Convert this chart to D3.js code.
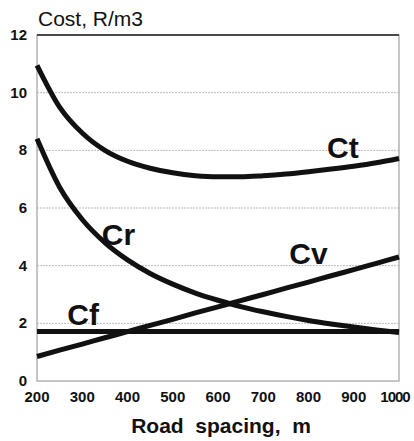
<!DOCTYPE html>
<html>
<head>
<meta charset="utf-8">
<script src="https://cdn.jsdelivr.net/npm/d3@7"></script>
<style>
  body { margin: 0; background: #fff; }
  svg { display: block; font-family: Arial, "Liberation Sans", sans-serif; }
</style>
</head>
<body>
<svg width="414" height="441"></svg>
<script>
// road spacing, m
var spacing = [200, 250, 300, 350, 400, 450, 500, 550, 600, 650, 700, 750, 800, 850, 900, 950, 1000];
// cost components, R/m3
var Cr = [8.4, 6.72, 5.6, 4.8, 4.2, 3.73, 3.36, 3.05, 2.8, 2.58, 2.4, 2.24, 2.1, 1.98, 1.87, 1.77, 1.68];
var Cv = [0.85, 1.07, 1.28, 1.5, 1.71, 1.93, 2.14, 2.36, 2.57, 2.79, 3.0, 3.22, 3.43, 3.65, 3.86, 4.08, 4.3];
var Cf = [1.72, 1.72, 1.72, 1.72, 1.72, 1.72, 1.72, 1.72, 1.72, 1.72, 1.72, 1.72, 1.72, 1.72, 1.72, 1.72, 1.72];
var Ct = [10.95, 9.5, 8.6, 8.0, 7.62, 7.38, 7.22, 7.12, 7.08, 7.08, 7.12, 7.18, 7.26, 7.35, 7.45, 7.57, 7.72];

var xTicks = [200, 300, 400, 500, 600, 700, 800, 900, 1000];
var yTicks = [0, 2, 4, 6, 8, 10, 12];
var gridTicks = [2, 4, 6, 8, 10];

var labels = [
  {name: "Ct", x: 876, y: 7.72},
  {name: "Cr", x: 380, y: 4.7},
  {name: "Cv", x: 800, y: 4.05},
  {name: "Cf", x: 302, y: 1.94}
];

var svg = d3.select("svg");
var m = {left: 37, right: 399, top: 35, bottom: 381};

var x = d3.scaleLinear().domain([200, 1000]).range([m.left, m.right]);
var y = d3.scaleLinear().domain([0, 12]).range([m.bottom, m.top]);

// dotted grid
svg.append("g").selectAll("line")
  .data(gridTicks)
  .enter().append("line")
  .attr("x1", m.left).attr("x2", m.right)
  .attr("y1", function (d) { return y(d); })
  .attr("y2", function (d) { return y(d); })
  .attr("stroke", "#bbb")
  .attr("stroke-width", 1)
  .attr("stroke-dasharray", "2,1");

// frame
svg.append("rect")
  .attr("x", m.left).attr("y", m.top)
  .attr("width", m.right - m.left).attr("height", m.bottom - m.top)
  .attr("fill", "none")
  .attr("stroke", "#a0a0a0")
  .attr("stroke-width", 1.2);
svg.append("line")
  .attr("x1", m.left).attr("x2", m.right)
  .attr("y1", m.top).attr("y2", m.top)
  .attr("stroke", "#222")
  .attr("stroke-width", 1.5);

// y ticks
svg.append("g").selectAll("text")
  .data(yTicks)
  .enter().append("text")
  .attr("x", 27)
  .attr("y", function (d) { return y(d) + 5; })
  .attr("text-anchor", "end")
  .attr("font-size", 15)
  .attr("font-weight", "bold")
  .attr("fill", "#111")
  .text(function (d) { return d; });

// x ticks
svg.append("g").selectAll("text")
  .data(xTicks)
  .enter().append("text")
  .attr("x", function (d) { return d === 1000 ? x(d) - 4 : x(d); })
  .attr("y", 402)
  .attr("text-anchor", "middle")
  .attr("font-size", 15)
  .attr("font-weight", "bold")
  .attr("letter-spacing", function (d) { return d === 1000 ? -1 : 0; })
  .attr("fill", "#111")
  .text(function (d) { return d; });

// titles
svg.append("text")
  .attr("x", 38).attr("y", 26)
  .attr("font-size", 21)
  .attr("fill", "#111")
  .text("Cost, R/m3");

svg.append("text")
  .attr("x", 221).attr("y", 433)
  .attr("text-anchor", "middle")
  .attr("font-size", 21)
  .attr("font-weight", "bold")
  .attr("fill", "#111")
  .attr("xml:space", "preserve")
  .style("white-space", "pre")
  .text("Road  spacing,  m");

// curves
var line = d3.line()
  .x(function (d) { return x(d[0]); })
  .y(function (d) { return y(d[1]); })
  .curve(d3.curveMonotoneX);

[Cf, Cv, Cr, Ct].forEach(function (s) {
  svg.append("path")
    .datum(d3.zip(spacing, s))
    .attr("d", line)
    .attr("fill", "none")
    .attr("stroke", "#111")
    .attr("stroke-width", 5);
});

svg.append("g").selectAll("text")
  .data(labels)
  .enter().append("text")
  .attr("x", function (d) { return x(d.x); })
  .attr("y", function (d) { return y(d.y); })
  .attr("text-anchor", "middle")
  .attr("font-size", 30)
  .attr("font-weight", "bold")
  .attr("fill", "#111")
  .text(function (d) { return d.name; });
</script>
</body>
</html>
